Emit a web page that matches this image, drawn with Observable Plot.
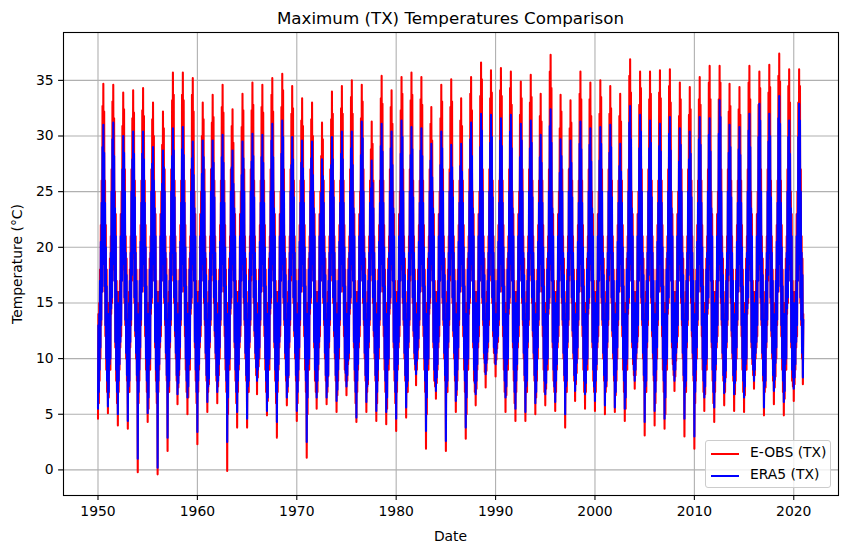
<!DOCTYPE html>
<html>
<head>
<meta charset="utf-8">
<script src="https://cdn.jsdelivr.net/npm/d3@7"></script>
<script src="https://cdn.jsdelivr.net/npm/@observablehq/plot@0.6"></script>
<style>
  html, body { margin: 0; padding: 0; background: #fff; }
  #wrap { position: relative; width: 847px; height: 553px; font-family: "DejaVu Sans", sans-serif; color: #000; overflow: hidden; }
  #chart { position: absolute; left: 0; top: 0; }
  #title { position: absolute; left: 63px; width: 775px; top: 9.5px; text-align: center; font-size: 16.7px; line-height: 16.7px; white-space: nowrap; }
  #xlabel { position: absolute; left: 63px; width: 775px; top: 529.5px; text-align: center; font-size: 13.9px; line-height: 13.9px; }
  #ylabel { position: absolute; left: 18px; top: 263.5px; transform: translate(-50%, -50%) rotate(-90deg); font-size: 13.9px; line-height: 13.9px; white-space: nowrap; }
  #legend { position: absolute; left: 705px; top: 440px; width: 126px; height: 48px; box-sizing: border-box; border: 1px solid #cccccc; border-radius: 3px; background: rgba(255,255,255,0.8); }
  .sw { position: absolute; left: 5px; width: 28px; height: 2.1px; }
  .lt { position: absolute; left: 44px; font-size: 13.9px; line-height: 13.9px; white-space: nowrap; }
</style>
</head>
<body>
<div id="wrap">
  <div id="chart"></div>
  <div id="title">Maximum (TX) Temperatures Comparison</div>
  <div id="xlabel">Date</div>
  <div id="ylabel">Temperature (°C)</div>
  <div id="legend">
    <div class="sw" style="top:11.5px;background:red"></div>
    <div class="lt" style="top:5px">E-OBS (TX)</div>
    <div class="sw" style="top:33.5px;background:blue"></div>
    <div class="lt" style="top:27px">ERA5 (TX)</div>
  </div>
</div>
<script>
// Years of the record; each year has 24 readings (1st and 16th of each month, Jan..Dec)
const years = [1950,1951,1952,1953,1954,1955,1956,1957,1958,1959,
  1960,1961,1962,1963,1964,1965,1966,1967,1968,1969,
  1970,1971,1972,1973,1974,1975,1976,1977,1978,1979,
  1980,1981,1982,1983,1984,1985,1986,1987,1988,1989,
  1990,1991,1992,1993,1994,1995,1996,1997,1998,1999,
  2000,2001,2002,2003,2004,2005,2006,2007,2008,2009,
  2010,2011,2012,2013,2014,2015,2016,2017,2018,2019,2020];
const months = ["Jan","Feb","Mar","Apr","May","Jun","Jul","Aug","Sep","Oct","Nov","Dec"];
const readingDays = [1, 16];

// E-OBS (TX) readings, °C
const eobs = [
[4.6,14,6,15,8,18,10,22,13,26,16,32.7,19,34.7,19,32.2,16,26,12,22,9,18,7,15],
[5.1,15,6.5,14,9,19,9,21,14,27,15,33.1,18,34.6,20,31.6,17,25,11,23,8,17,6,16],
[4.0,13,7,16,9,17,11,23,12,25,17,30.9,20,33.9,18,32.4,15,27,13,21,10,19,8,14],
[3.7,12,7,16,7,18,11,21,13,27,17,31.6,21,34.1,19,32.1,15,26,12,21,10,18,8,15],
[-0.2,14,6,15,8,18,10,22,13,26,16,32.3,19,34.3,19,31.8,16,26,12,22,9,18,7,15],
[4.3,15,5.5,14,9,19,9,21,14,27,15,31.5,18,33.0,20,30.0,17,25,11,23,8,17,6,16],
[-0.4,13,7,16,9,17,11,23,12,25,17,29.2,20,32.2,18,30.7,15,27,13,21,10,19,8,14],
[1.7,12,7,16,7,18,11,21,13,27,17,33.2,21,35.7,19,33.7,15,26,12,21,10,18,8,15],
[5.9,14,7.4,15,8.5,18,10,22,13,26,16,33.7,19,35.7,19,33.2,16,26,12,22,9,18,7,15],
[5.0,15,6.5,14,9,19,9,21,14,27,15,33.7,18,35.2,20,32.2,17,25,11,23,8,17,6,16],
[2.3,13,7,16,9,17,11,23,12,25,17,30.0,20,33.0,18,31.5,15,27,13,21,10,19,8,14],
[5.2,12,7,16,7.7,18,11,21,13,27,17,31.2,21,33.7,19,31.7,15,26,12,21,10,18,8,15],
[6.0,14,7.5,15,8.5,18,10,22,13,26,16,32.6,19,34.6,19,32.1,16,26,12,22,9,18,7,15],
[-0.1,15,5,14,9,19,9,21,14,27,15,30.9,18,32.4,20,29.4,17,25,11,23,8,17,6,16],
[3.8,13,7,16,9,17,11,23,12,25,17,30.8,20,33.8,18,32.3,15,27,13,21,10,19,8,14],
[3.8,12,7,16,7,18,11,21,13,27,17,32.3,21,34.8,19,32.8,15,26,12,21,10,18,8.5,15],
[6.8,14,8.3,15,9.3,18,10,22,13,26,16,32.6,19,34.6,19,32.1,16,26,12,22,9,18,7,15],
[4.9,15,6.2,14,9,19,9,21,14,27,15,33.7,18,35.2,20,32.2,17,25,11,23,8,17,6,16],
[2.9,13,7,16,9,17,11,23,12,25,17,32.6,20,35.6,18,34.1,15,27,13,21,10,19,8,14],
[5.8,12,7,16,8.3,18,11,21,13,27,17,32.0,21,34.5,19,32.5,15,26,12,21,10,18,8,15],
[4.4,14,6,15,8,18,10,22,13,26,16,31.4,19,33.4,19,30.9,16,26,12,22,9,18,7,15],
[1.1,15,5,14,9,19,9,21,14,27,15,31.5,18,33.0,20,30.0,17,25,11,23,8,17,7,16],
[5.5,13,7,16,9,17,11,23,12,25,17,28.2,20,31.2,18,29.7,15,26,13,21,10,19,8,14],
[5.9,12,7,16,8.4,18,11,21,13,27,17,31.5,21,34.0,19,32.0,15,26,12,21,10,18,8,15],
[5.2,14,6.7,15,8,18,10,22,13,26,16,32.5,19,34.5,19,32.0,16,26,12,22,9,18,8,15],
[6.7,15,8,14,9.5,19,10,21,14,27,15,33.5,18,35.0,20,32.0,17,25,11,23,8,17,6,16],
[4.3,13,7,16,9,17,11,23,12,25,17,31.6,20,34.6,18,33.1,15,27,13,21,10,19,8,14],
[5.2,12,7,16,7.7,18,11,21,13,26,17,28.8,21,31.3,19,29.3,15,26,12,21,10,18,8,15],
[4.4,14,6,15,8,18,10,22,13,26,16,33.4,19,35.4,19,32.9,16,26,12,22,9,18,7,15],
[4.1,15,5.5,14,9,19,9,21,14,27,15,32.6,18,34.1,20,31.1,17,25,11,23,8,17,6,16],
[3.5,13,7,16,9,17,11,23,12,25,17,32.3,20,35.3,18,33.8,15,27,13,21,10,19,8,14],
[4.7,12,7,16,7,18,11,21,13,27,17,33.2,21,35.7,19,33.7,15,26,12,21,10,18,9,15],
[7.6,14,9,15,10,18,11,22,13,26,16,33.3,19,35.3,19,32.8,16,26,12,22,9,18,7,15],
[1.9,15,5,14,9,19,9,21,14,27,15,31.1,18,32.6,20,29.6,17,25,11,23,8,17,7.5,16],
[6.4,13,7.8,16,9,17,11,23,12,25,17,31.6,20,34.6,18,33.1,15,27,13,21,10,19,8,14],
[1.7,12,7,16,7,18,11,21,13,27,17,32.6,21,35.1,19,33.1,15,26,12,21,10,18,8,15],
[5.2,14,6.7,15,8,18,10,22,13,26,16,31.4,19,33.4,19,30.9,16,26,12,22,9,18,7,15],
[2.8,15,5,14,9,19,9,21,14,27,15,33.8,18,35.3,20,32.3,17,25,11,23,8,17,7,16],
[5.8,13,7.3,16,9,17,11,23,12,25,17,33.6,20,36.6,18,35.1,15,27,13,21,10,19,8.8,14],
[7.4,12,8.9,16,9.9,18,11,21,13,27,17,33.4,21,35.9,19,33.9,15,26,12,21,10.5,18,9.6,15],
[8.4,14,9.9,15,10.9,18,11.5,22,13,26,16,34.1,19,36.1,19,33.6,16,26,12,22,9,18,7,15],
[5.2,15,6.7,14,9,19,9,21,14,27,15,34.3,18,35.8,20,32.8,17,25,11,23,8,17,6,16],
[4.4,13,7,16,9,17,11,23,12,25,17,31.9,20,34.9,18,33.4,15,27,13,21,10,19,8,14],
[4.4,12,7,16,7,18,11,21,13,27,17,33.0,21,35.5,19,33.5,15,26,12,21,10,18,8,15],
[5.0,14,6.5,15,8,18,10,22,13,26,16,31.8,19,33.8,19,31.3,16,26,12,22,9,18,7,15],
[5.8,15,7.3,14,9,19,9,21,14,27,15,35.8,18,37.3,20,34.3,17,25,11,23,8,17,7,16],
[5.3,13,7,16,9,17,11,23,12,25,17,30.7,20,33.7,18,32.2,15,27,13,21,10,19,8,14],
[3.8,12,7,16,7,18,11,21,13,27,17,30.7,21,33.2,19,31.2,15,26,12,21,10,18,8,15],
[6.2,14,7.7,15,8.7,18,10,22,13,26,16,33.8,19,35.8,19,33.3,16,26,12,22,9,18,7,15],
[5.5,15,7,14,9,19,9,21,14,27,15,33.3,18,34.8,20,31.8,17,25,11,23,8,17,7,16],
[5.3,13,7,16,9,17,11,23,12,25,17,32.0,20,35.0,18,33.5,15,27,13,21,10,19,8,14],
[5.0,12,7,16,7.5,18,11,21,13,27,17,32.0,21,34.5,19,32.5,15,26,12,21,10,18,8,15],
[5.2,14,6.7,15,8,18,10,22,13,26,16,31.8,19,33.8,19,31.3,16,26,12,22,9,18,7,15],
[4.4,15,5.5,14,9,19,9,21,14,27,15,35.4,18,36.9,20,33.9,17,25,11,23,9.5,17,8.5,16],
[7.3,13,8.5,16,10,17,11,23,12,25,17,32.8,20,35.8,18,34.3,15,27,13,21,10,19,8,14],
[3.1,12,7,16,7,18,11,21,13,27,17,33.3,21,35.8,19,33.8,15,26,12,21,10,18,8,15],
[4.0,14,6,15,8,18,10,22,13,26,16,33.9,19,35.9,19,33.4,16,26,12,22,9,18,7,15],
[3.7,15,5,14,9,19,9,21,14,27,15,34.5,18,36.0,20,33.0,17,25,11,23,9.5,17,8.5,16],
[7.1,13,8.4,16,9.8,17,11,23,12,25,17,31.8,20,34.8,18,33.3,15,27,13,21,10,19,8,14],
[3.0,12,7,16,7,18,11,21,13,27,17,31.9,21,34.4,19,32.4,15,26,12,21,10,18,8,15],
[1.9,14,6,15,8,18,10,22,13,26,16,33.3,19,35.3,19,32.8,16,26,12,22,9,18,7,15],
[5.3,15,6.8,14,9,19,9,21,14,27,15,34.8,18,36.3,20,33.3,17,25,11,23,8,17,6,16],
[4.3,13,7,16,9,17,11,23,12,25,17,33.3,20,36.3,18,34.8,15,27,13,21,10,19,8,14],
[5.8,12,7,16,8.3,18,11,21,13,27,17,32.2,21,34.7,19,32.7,15,26,12,21,10,18,8,15],
[5.3,14,6.8,15,8,18,10,22,13,26,16,32.4,19,34.4,19,31.9,16,26,12,22,9,18,7,15],
[5.2,15,6.7,14,9,19,9,21,14,27,15,34.8,18,36.3,20,33.3,17,25,11,23,9.5,17,8.5,16],
[7.3,13,8.5,16,10,17,11,23,12,25,17,32.8,20,35.8,18,34.3,15,27,13,21,10,19,8,14],
[4.9,12,7,16,7.4,18,11,21,13,27,17,33.9,21,36.4,19,34.4,15,26,12,21,10,18,8,15],
[5.9,14,7.4,15,8.4,18,10,22,13,26,16,35.4,19,37.4,19,34.9,16,26,12,22,9,18,7,15],
[4.9,15,6.4,14,9,19,9,21,14,27,15,34.5,18,36.0,20,33.0,17,25,11,23,8,17,7.5,16],
[6.2,13,7.7,16,9,17,11,23,12,25,17,33.0,20,36.0,18,34.5,15,27,13,21,10,19,7.7,14]
];

// ERA5 (TX) readings, °C
const era5 = [
[5.5,13,7,14,9,17,11,20.5,13.5,24,16,29.0,18.5,31.0,19,28.5,16.5,24,13,20,10,16.5,8,14],
[5.7,14,7,13.5,9.5,18,10,19.5,14.5,25,15.5,29.7,18.5,31.2,20,28.2,17,23.5,11.5,21,9,16,7,15],
[5.0,12.5,8,15,9.5,16,11.5,21,13,23,17,27.0,20,30.0,18.5,28.5,15.5,25,13.5,19.5,10.5,17.5,8.5,13.5],
[4.4,11.5,7.5,15,8,17,11.5,19.5,13.5,25,17.5,27.9,21,30.4,19.5,28.4,15.5,24.5,12.5,19.5,10.5,17,8.5,14],
[1.0,13,7,14,9,17,11,20.5,13.5,24,16,28.4,18.5,30.4,19,27.9,16.5,24,13,20,10,16.5,8,14],
[5.1,14,6.5,13.5,9.5,18,10,19.5,14.5,25,15.5,27.5,18.5,29.0,20,26.0,17,23.5,11.5,21,9,16,7,15],
[0.2,12.5,8,15,9.5,16,11.5,21,13,23,17,25.7,20,28.7,18.5,27.2,15.5,25,13.5,19.5,10.5,17.5,8.5,13.5],
[2.9,11.5,7.5,15,8,17,11.5,19.5,13.5,25,17.5,28.2,21,30.7,19.5,28.7,15.5,24.5,12.5,19.5,10.5,17,8.5,14],
[6.8,13,7.8,14,9,17,11,20.5,13.5,24,16,28.8,18.5,30.8,19,28.3,16.5,24,13,20,10,16.5,8,14],
[6.5,14,7.5,13.5,9.5,18,10,19.5,14.5,25,15.5,28.0,18.5,29.5,20,26.5,17,23.5,11.5,21,9,16,7,15],
[3.4,12.5,8,15,9.5,16,11.5,21,13,23,17,26.6,20,29.6,18.5,28.1,15.5,25,13.5,19.5,10.5,17.5,8.5,13.5],
[6.1,11.5,7.5,15,8.2,17,11.5,19.5,13.5,25,17.5,27.1,21,29.6,19.5,27.6,15.5,24.5,12.5,19.5,10.5,17,8.5,14],
[7.0,13,8,14,9.5,17,11,20.5,13.5,24,16,28.1,18.5,30.1,19,27.6,16.5,24,13,20,10,16.5,8,14],
[2.5,14,6.5,13.5,9.5,18,10,19.5,14.5,25,15.5,27.2,18.5,28.7,20,25.7,17,23.5,11.5,21,9,16,7,15],
[5.2,12.5,8,15,9.5,16,11.5,21,13,23,17,26.5,20,29.5,18.5,28.0,15.5,25,13.5,19.5,10.5,17.5,8.5,13.5],
[4.6,11.5,7.5,15,8,17,11.5,19.5,13.5,25,17.5,27.7,21,30.2,19.5,28.2,15.5,24.5,12.5,19.5,10.5,17,9.2,14],
[8.0,13,9,14,10,17,11,20.5,13.5,24,16,28.1,18.5,30.1,19,27.6,16.5,24,13,20,10,16.5,8,14],
[5.3,14,6.5,13.5,9.5,18,10,19.5,14.5,25,15.5,29.6,18.5,31.1,20,28.1,17,23.5,11.5,21,9,16,7,15],
[4.3,12.5,8,15,9.5,16,11.5,21,13,23,17,28.4,20,31.4,18.5,29.9,15.5,25,13.5,19.5,10.5,17.5,8.5,13.5],
[6.5,11.5,7.5,15,8.5,17,11.5,19.5,13.5,25,17.5,27.4,21,29.9,19.5,27.9,15.5,24.5,12.5,19.5,10.5,17,8.5,14],
[5.3,13,7,14,9,17,11,20.5,13.5,24,16,27.6,18.5,29.6,19,27.1,16.5,24,13,20,10,16.5,8,14],
[2.5,14,6.5,13.5,9.5,18,10,19.5,14.5,25,15.5,28.0,18.5,29.5,20,26.5,17,23.5,11.5,21,9,16,8,15],
[6.5,12.5,8,15,9.5,16,11.5,21,13,23,17,24.9,20,27.9,18.5,26.4,15.5,24,13.5,19.5,10.5,17.5,8.5,13.5],
[6.5,11.5,7.5,15,8.5,17,11.5,19.5,13.5,25,17.5,27.4,21,29.9,19.5,27.9,15.5,24.5,12.5,19.5,10.5,17,8.5,14],
[6.2,13,7.2,14,9,17,11,20.5,13.5,24,16,28.4,18.5,30.4,19,27.9,16.5,24,13,20,10,16.5,8.7,14],
[7.5,14,8.5,13.5,9.8,18,10.5,19.5,14.5,25,15.5,28.9,18.5,30.4,20,27.4,17,23.5,11.5,21,9,16,7,15],
[4.7,12.5,8,15,9.5,16,11.5,21,13,23,17,28.3,20,31.3,18.5,29.8,15.5,25,13.5,19.5,10.5,17.5,8.5,13.5],
[6.1,11.5,7.5,15,8.1,17,11.5,19.5,13.5,24,17.5,25.3,21,27.8,19.5,25.8,15.5,23.5,12.5,19.5,10.5,17,8.5,14],
[5.3,13,7,14,9,17,11,20.5,13.5,24,16,29.1,18.5,31.1,19,28.6,16.5,24,13,20,10,16.5,8,14],
[5.2,14,6.5,13.5,9.5,18,10,19.5,14.5,25,15.5,28.9,18.5,30.4,20,27.4,17,23.5,11.5,21,9,16,7,15],
[4.6,12.5,8,15,9.5,16,11.5,21,13,23,17,28.4,20,31.4,18.5,29.9,15.5,25,13.5,19.5,10.5,17.5,8.5,13.5],
[5.6,11.5,7.5,15,8,17,11.5,19.5,13.5,25,17.5,28.3,21,30.8,19.5,28.8,15.5,24.5,12.5,19.5,10.5,17,9.5,14],
[8.6,13,9.8,14,10.8,17,11.8,20.5,13.5,24,16,28.7,18.5,30.7,19,28.2,16.5,24,13,20,10,16.5,8,14],
[3.5,14,6.5,13.5,9.5,18,10,19.5,14.5,25,15.5,27.8,18.5,29.3,20,26.3,17,23.5,11.5,21,9,16,8,15],
[7.1,12.5,8.3,15,9.5,16,11.5,21,13,23,17,27.4,20,30.4,18.5,28.9,15.5,25,13.5,19.5,10.5,17.5,8.5,13.5],
[2.6,11.5,7.5,15,8,17,11.5,19.5,13.5,25,17.5,26.7,21,29.2,19.5,27.2,15.5,24.5,12.5,19.5,10.5,17,8.5,14],
[6.2,13,7.2,14,9,17,11,20.5,13.5,24,16,27.3,18.5,29.3,19,26.8,16.5,24,13,20,10,16.5,8,14],
[3.8,14,6.5,13.5,9.5,18,10,19.5,14.5,25,15.5,29.7,18.5,31.2,20,28.2,17,23.5,11.5,21,9,16,7.8,15],
[6.8,12.5,8,15,9.5,16,11.5,21,13,23,17,29.0,20,32.0,18.5,30.5,15.5,25,13.5,19.5,10.5,17.5,9.6,13.5],
[8.6,11.5,9.6,15,10.6,17,11.5,19.5,13.5,25,17.5,29.4,21,31.9,19.5,29.9,15.5,24.5,12.5,19.5,11,17,10.5,14],
[9.5,13,10.5,14,11.5,17,12,20.5,13.5,24,16,29.6,18.5,31.6,19,29.1,16.5,24,13,20,10,16.5,8,14],
[6.5,14,7.5,13.5,9.5,18,10,19.5,14.5,25,15.5,30.4,18.5,31.9,20,28.9,17,23.5,11.5,21,9,16,7,15],
[5.5,12.5,8,15,9.5,16,11.5,21,13,23,17,28.1,20,31.1,18.5,29.6,15.5,25,13.5,19.5,10.5,17.5,8.5,13.5],
[5.2,11.5,7.5,15,8,17,11.5,19.5,13.5,25,17.5,28.9,21,31.4,19.5,29.4,15.5,24.5,12.5,19.5,10.5,17,8.5,14],
[6.0,13,7,14,9,17,11,20.5,13.5,24,16,28.1,18.5,30.1,19,27.6,16.5,24,13,20,10,16.5,8,14],
[6.8,14,7.8,13.5,9.5,18,10,19.5,14.5,25,15.5,30.9,18.5,32.4,20,29.4,17,23.5,11.5,21,9,16,7.5,15],
[6.1,12.5,8,15,9.5,16,11.5,21,13,23,17,26.7,20,29.7,18.5,28.2,15.5,25,13.5,19.5,10.5,17.5,8.5,13.5],
[5.0,11.5,7.5,15,8,17,11.5,19.5,13.5,25,17.5,27.1,21,29.6,19.5,27.6,15.5,24.5,12.5,19.5,10.5,17,8.5,14],
[7.1,13,8.1,14,9.6,17,11,20.5,13.5,24,16,29.3,18.5,31.3,19,28.8,16.5,24,13,20,10,16.5,8,14],
[6.8,14,7.8,13.5,9.5,18,10,19.5,14.5,25,15.5,29.2,18.5,30.7,20,27.7,17,23.5,11.5,21,9,16,7.5,15],
[6.2,12.5,8,15,9.5,16,11.5,21,13,23,17,27.8,20,30.8,18.5,29.3,15.5,25,13.5,19.5,10.5,17.5,8.5,13.5],
[5.8,11.5,7.5,15,8,17,11.5,19.5,13.5,25,17.5,28.5,21,31.0,19.5,29.0,15.5,24.5,12.5,19.5,10.5,17,8.5,14],
[5.6,13,7,14,9,17,11,20.5,13.5,24,16,27.3,18.5,29.3,19,26.8,16.5,24,13,20,10,16.5,8,14],
[5.5,14,6.5,13.5,9.5,18,10,19.5,14.5,25,15.5,31.2,18.5,32.7,20,29.7,17,23.5,11.5,21,10,16,9,15],
[8.0,12.5,9,15,10.5,16,11.5,21,13,23,17,28.9,20,31.9,18.5,30.4,15.5,25,13.5,19.5,10.5,17.5,8.5,13.5],
[4.3,11.5,7.5,15,8,17,11.5,19.5,13.5,25,17.5,28.9,21,31.4,19.5,29.4,15.5,24.5,12.5,19.5,10.5,17,8.5,14],
[5.3,13,7,14,9,17,11,20.5,13.5,24,16,29.1,18.5,31.1,19,28.6,16.5,24,13,20,10,16.5,8,14],
[4.6,14,6.5,13.5,9.5,18,10,19.5,14.5,25,15.5,30.2,18.5,31.7,20,28.7,17,23.5,11.5,21,10,16,9,15],
[8.0,12.5,9,15,10.5,16,11.5,21,13,23,17,27.7,20,30.7,18.5,29.2,15.5,25,13.5,19.5,10.5,17.5,8.5,13.5],
[4.6,11.5,7.5,15,8,17,11.5,19.5,13.5,25,17.5,27.9,21,30.4,19.5,28.4,15.5,24.5,12.5,19.5,10.5,17,8.5,14],
[3.0,13,7,14,9,17,11,20.5,13.5,24,16,29.7,18.5,31.7,19,29.2,16.5,24,13,20,10,16.5,8,14],
[6.5,14,7.5,13.5,9.5,18,10,19.5,14.5,25,15.5,30.1,18.5,31.6,20,28.6,17,23.5,11.5,21,9,16,7,15],
[5.6,12.5,8,15,9.5,16,11.5,21,13,23,17,30.2,20,33.2,18.5,31.7,15.5,25,13.5,19.5,10.5,17.5,8.5,13.5],
[6.9,11.5,7.9,15,8.9,17,11.5,19.5,13.5,25,17.5,28.5,21,31.0,19.5,29.0,15.5,24.5,12.5,19.5,10.5,17,8.5,14],
[6.8,13,7.8,14,9,17,11,20.5,13.5,24,16,28.8,18.5,30.8,19,28.3,16.5,24,13,20,10,16.5,8,14],
[6.5,14,7.5,13.5,9.5,18,10,19.5,14.5,25,15.5,30.5,18.5,32.0,20,29.0,17,23.5,11.5,21,10,16,9,15],
[8.0,12.5,9,15,10.5,16,11.5,21,13,23,17,29.9,20,32.9,18.5,31.4,15.5,25,13.5,19.5,10.5,17.5,8.5,13.5],
[5.6,11.5,7.5,15,8,17,11.5,19.5,13.5,25,17.5,29.5,21,32.0,19.5,30.0,15.5,24.5,12.5,19.5,10.5,17,8.5,14],
[7.1,13,8.1,14,9.6,17,11,20.5,13.5,24,16,31.6,18.5,33.6,19,31.1,16.5,24,13,20,10,16.5,8,14],
[6.1,14,7.1,13.5,9.5,18,10,19.5,14.5,25,15.5,29.9,18.5,31.4,20,28.4,17,23.5,11.5,21,9,16,8.3,15],
[7.3,12.5,8.3,15,9.5,16,11.5,21,13,23,17,29.9,20,32.9,18.5,31.4,15.5,25,13.5,19.5,10.5,17.5,8.3,13.5]
];

// Axis ticks
const xTickYears = [1950, 1960, 1970, 1980, 1990, 2000, 2010, 2020];
const yTicks = [0, 5, 10, 15, 20, 25, 30, 35];

// Long tables: one row per reading
function toRows(table) {
  const rows = [];
  years.forEach((yr, i) => {
    months.forEach((m, j) => {
      readingDays.forEach((d, k) => {
        rows.push({date: new Date(Date.UTC(yr, j, d)), value: table[i][j * 2 + k]});
      });
    });
  });
  return rows;
}
const eobsRows = toRows(eobs);
const era5Rows = toRows(era5);

const fracYear = y => {
  const y0 = Math.floor(y);
  const a = Date.UTC(y0, 0, 1), b = Date.UTC(y0 + 1, 0, 1);
  return new Date(a + (y - y0) * (b - a));
};
const xTicks = xTickYears.map(y => new Date(Date.UTC(y, 0, 1)));

const chart = Plot.plot({
  width: 847,
  height: 553,
  marginLeft: 63,
  marginRight: 9,
  marginTop: 32,
  marginBottom: 58,
  style: {fontFamily: "DejaVu Sans, sans-serif", fontSize: "13.9px", color: "#000", background: "#fff", overflow: "visible"},
  x: {type: "utc", domain: [fracYear(1946.53), fracYear(2024.5)]},
  y: {domain: [-2.3, 39.3]},
  marks: [
    Plot.gridX(xTicks, {stroke: "#b0b0b0", strokeOpacity: 1, strokeWidth: 1.1}),
    Plot.gridY(yTicks, {stroke: "#b0b0b0", strokeOpacity: 1, strokeWidth: 1.1}),
    Plot.lineY(eobsRows, {x: "date", y: "value", stroke: "red", strokeWidth: 2.08}),
    Plot.lineY(era5Rows, {x: "date", y: "value", stroke: "blue", strokeWidth: 2.08}),
    Plot.frame({stroke: "#000", strokeWidth: 1.1}),
    Plot.axisX(xTicks, {tickSize: 4.9, tickPadding: 5.5, tickFormat: d => String(d.getUTCFullYear()), label: null, stroke: "#000", strokeWidth: 1.1}),
    Plot.axisY(yTicks, {tickSize: 4.9, tickPadding: 4.9, label: null, stroke: "#000", strokeWidth: 1.1})
  ]
});
document.getElementById("chart").appendChild(chart);
</script>
</body>
</html>
